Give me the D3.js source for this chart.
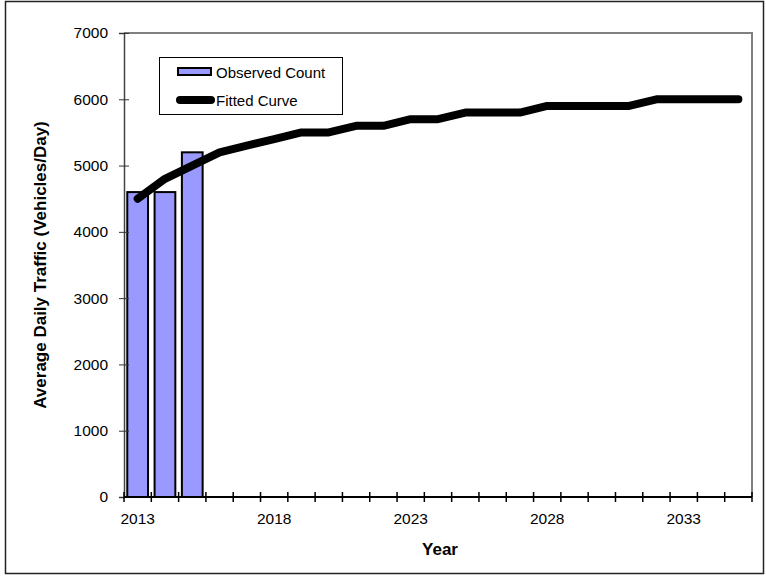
<!DOCTYPE html>
<html>
<head>
<meta charset="utf-8">
<script src="https://cdn.jsdelivr.net/npm/d3@7"></script>
<style>
  body { margin: 0; background: #fff; }
  svg { display: block; font-family: "Liberation Sans", Arial, sans-serif; }
</style>
</head>
<body>
<div class="chart"></div>
<script>
const width = 766;
const height = 577;

// categories and values
const years = ["2013","2014","2015","2016","2017","2018","2019","2020","2021","2022","2023","2024",
  "2025","2026","2027","2028","2029","2030","2031","2032","2033","2034","2035"];
const observedYears = ["2013","2014","2015"];
const observedCount = [4600, 4600, 5200];
const fittedCurve = [4500, 4800, 5000, 5200, 5300, 5400, 5500, 5500, 5600, 5600, 5700, 5700,
  5800, 5800, 5800, 5900, 5900, 5900, 5900, 6000, 6000, 6000, 6000];
const yTicks = [0, 1000, 2000, 3000, 4000, 5000, 6000, 7000];
const xLabels = ["2013", "2018", "2023", "2028", "2033"];

const margin = { top: 33, right: 14, bottom: 80, left: 124 };
const innerWidth = width - margin.left - margin.right;
const innerHeight = height - margin.top - margin.bottom;

const svg = d3.select(".chart")
  .append("svg")
  .attr("width", width)
  .attr("height", height);

// outer frame
svg.append("rect")
  .attr("x", 5.5)
  .attr("y", 1.5)
  .attr("width", 758)
  .attr("height", 572)
  .attr("fill", "none")
  .attr("stroke", "#222")
  .attr("stroke-width", 1.5);

const g = svg.append("g")
  .attr("transform", `translate(${margin.left},${margin.top})`);

const x = d3.scaleBand()
  .domain(years)
  .range([0, innerWidth]);
const y = d3.scaleLinear()
  .domain([0, 7000])
  .range([innerHeight, 0]);

// plot border (top and right in gray)
g.append("path")
  .attr("d", `M0,0H${innerWidth}V${innerHeight}`)
  .attr("fill", "none")
  .attr("stroke", "#808080")
  .attr("stroke-width", 2);

// bars
const barW = x.bandwidth() * 0.76;
g.selectAll(".bar")
  .data(observedYears)
  .enter()
  .append("rect")
  .attr("class", "bar")
  .attr("x", d => x(d) + (x.bandwidth() - barW) / 2)
  .attr("y", (d, i) => y(observedCount[i]))
  .attr("width", barW)
  .attr("height", (d, i) => innerHeight - y(observedCount[i]))
  .attr("fill", "#9999ff")
  .attr("stroke", "#000")
  .attr("stroke-width", 2);

// y axis
const yAxis = d3.axisLeft(y).tickValues(yTicks).tickFormat(d3.format("d")).tickSize(5).tickPadding(11);
const yg = g.append("g").call(yAxis);
yg.select(".domain").attr("stroke", "#444").attr("stroke-width", 1.5);
yg.selectAll(".tick line").attr("x2", -5).attr("x1", 5).attr("stroke", "#333");
yg.selectAll(".tick text")
  .attr("font-size", 15.5)
  .attr("fill", "#000")
  .attr("font-family", "Liberation Sans, Arial, sans-serif");

// x axis: ticks at category boundaries, labels every fifth year
const bounds = years.map(d => x(d)).concat([innerWidth]);
const xg = g.append("g").attr("transform", `translate(0,${innerHeight})`);
xg.append("line")
  .attr("x1", 0).attr("x2", innerWidth)
  .attr("stroke", "#000").attr("stroke-width", 2);
xg.selectAll(".xtick")
  .data(bounds)
  .enter()
  .append("line")
  .attr("class", "xtick")
  .attr("x1", d => d).attr("x2", d => d)
  .attr("y1", -5).attr("y2", 5)
  .attr("stroke", "#000")
  .attr("stroke-width", 1.5);
xg.selectAll(".xlabel")
  .data(xLabels)
  .enter()
  .append("text")
  .attr("class", "xlabel")
  .attr("x", d => x(d) + x.bandwidth() / 2)
  .attr("y", 27)
  .attr("text-anchor", "middle")
  .attr("font-size", 15.5)
  .text(d => d);

// fitted curve
const line = d3.line()
  .x((d, i) => x(years[i]) + x.bandwidth() / 2)
  .y(d => y(d));
g.append("path")
  .datum(fittedCurve)
  .attr("d", line)
  .attr("fill", "none")
  .attr("stroke", "#000")
  .attr("stroke-width", 8)
  .attr("stroke-linejoin", "round")
  .attr("stroke-linecap", "round");

// axis titles
svg.append("text")
  .attr("transform", `translate(46,${margin.top + innerHeight / 2}) rotate(-90)`)
  .attr("text-anchor", "middle")
  .attr("font-size", 17)
  .attr("font-weight", "bold")
  .text("Average Daily Traffic (Vehicles/Day)");

svg.append("text")
  .attr("x", 440)
  .attr("y", 555)
  .attr("text-anchor", "middle")
  .attr("font-size", 17)
  .attr("font-weight", "bold")
  .text("Year");

// legend
const legend = svg.append("g").attr("transform", "translate(159,57)");
legend.append("rect")
  .attr("x", 0.5).attr("y", 0.5)
  .attr("width", 183).attr("height", 57)
  .attr("fill", "#fff")
  .attr("stroke", "#000");
legend.append("rect")
  .attr("x", 19).attr("y", 11)
  .attr("width", 33).attr("height", 7)
  .attr("fill", "#9999ff")
  .attr("stroke", "#000")
  .attr("stroke-width", 2);
legend.append("text")
  .attr("x", 57).attr("y", 20.5)
  .attr("font-size", 15)
  .text("Observed Count");
legend.append("line")
  .attr("x1", 21).attr("x2", 52)
  .attr("y1", 43).attr("y2", 43)
  .attr("stroke", "#000")
  .attr("stroke-width", 8)
  .attr("stroke-linecap", "round");
legend.append("text")
  .attr("x", 57).attr("y", 48.5)
  .attr("font-size", 15)
  .text("Fitted Curve");
</script>
</body>
</html>
